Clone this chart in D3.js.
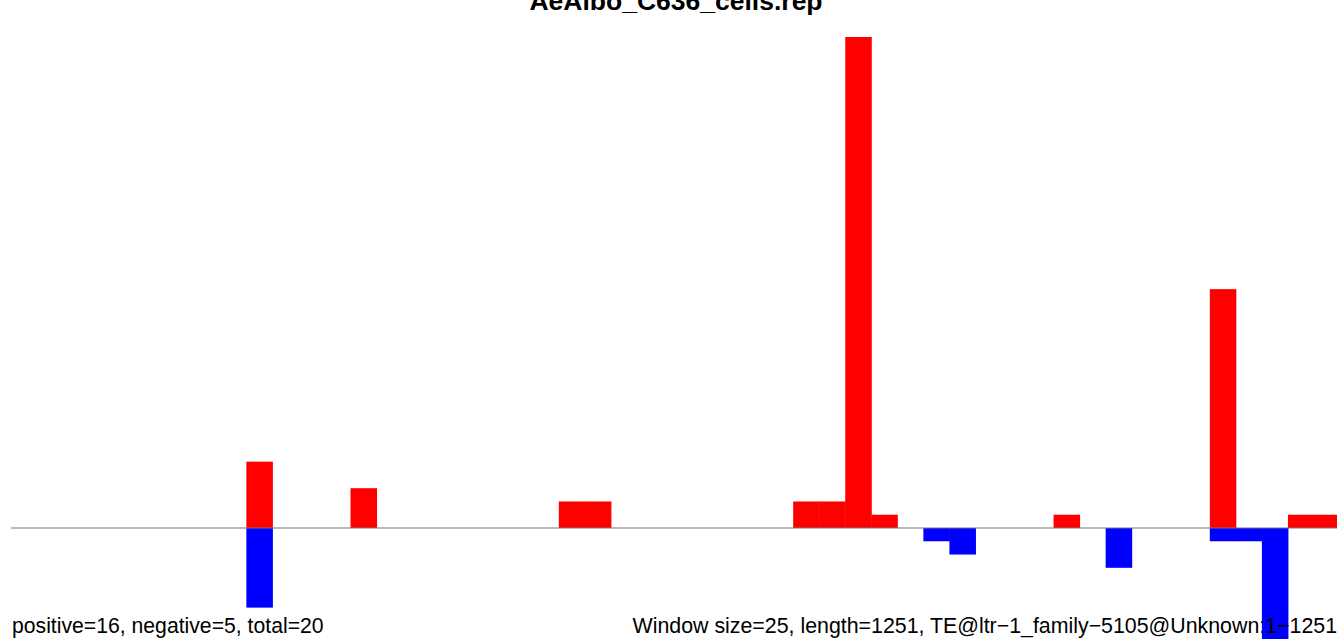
<!DOCTYPE html>
<html><head><meta charset="utf-8">
<script src="https://cdn.jsdelivr.net/npm/d3@7"></script>
<style>html,body{margin:0;padding:0;background:#fff;overflow:hidden}</style>
</head><body>
<script>
// Window bins (0..50), window size 25, length 1251
const bins = d3.range(51);
const positiveBins = [9, 13, 21, 22, 30, 31, 32, 33, 40, 46, 49, 50];
const positiveValues = [5, 3, 2, 2, 2, 2, 37, 1, 1, 18, 1, 1];
const negativeBins = [9, 35, 36, 42, 46, 47, 48];
const negativeValues = [6, 1, 2, 3, 1, 1, 10];
const titleText = "AeAlbo_C636_cells.rep";
const leftNote = "positive=16, negative=5, total=20";
const rightNote = "Window size=25, length=1251, TE@ltr\u22121_family\u22125105@Unknown:1\u22121251";

const W = 1337, H = 639;
const svg = d3.select("body").append("svg").attr("width", W).attr("height", H);
const x = d3.scaleLinear().domain([0, bins.length]).range([12, 1340]);
const y = d3.scaleLinear().domain([0, 37]).range([528, 37]);

const pos = positiveBins.map((b, i) => ({b, v: positiveValues[i]}));
const neg = negativeBins.map((b, i) => ({b, v: -negativeValues[i]}));

svg.append("g").selectAll("rect").data(pos).join("rect")
  .attr("x", d => x(d.b)).attr("width", d => x(d.b + 1) - x(d.b) + 0.5)
  .attr("y", d => y(d.v)).attr("height", d => y(0) - y(d.v))
  .attr("fill", "#ff0000");
svg.append("g").selectAll("rect").data(neg).join("rect")
  .attr("x", d => x(d.b)).attr("width", d => x(d.b + 1) - x(d.b) + 0.5)
  .attr("y", y(0)).attr("height", d => y(d.v) - y(0))
  .attr("fill", "#0000ff");

svg.append("line").attr("x1", 11).attr("x2", W).attr("y1", y(0)).attr("y2", y(0))
  .attr("stroke", "#777777").attr("stroke-width", 1.2);

svg.append("text").attr("x", (x.range()[0] + x.range()[1]) / 2).attr("y", 10)
  .attr("text-anchor", "middle").attr("font-family", "Liberation Sans, Arial, sans-serif")
  .attr("font-weight", "bold").attr("font-size", 26.5).attr("fill", "#000").text(titleText);
svg.append("text").attr("x", 12).attr("y", 633)
  .attr("font-family", "Liberation Sans, Arial, sans-serif").attr("font-size", 21.2)
  .attr("fill", "#000").text(leftNote);
svg.append("text").attr("x", 1337).attr("y", 633).attr("text-anchor", "end")
  .attr("font-family", "Liberation Sans, Arial, sans-serif").attr("font-size", 21.35)
  .attr("fill", "#000").text(rightNote);
</script>
</body></html>
